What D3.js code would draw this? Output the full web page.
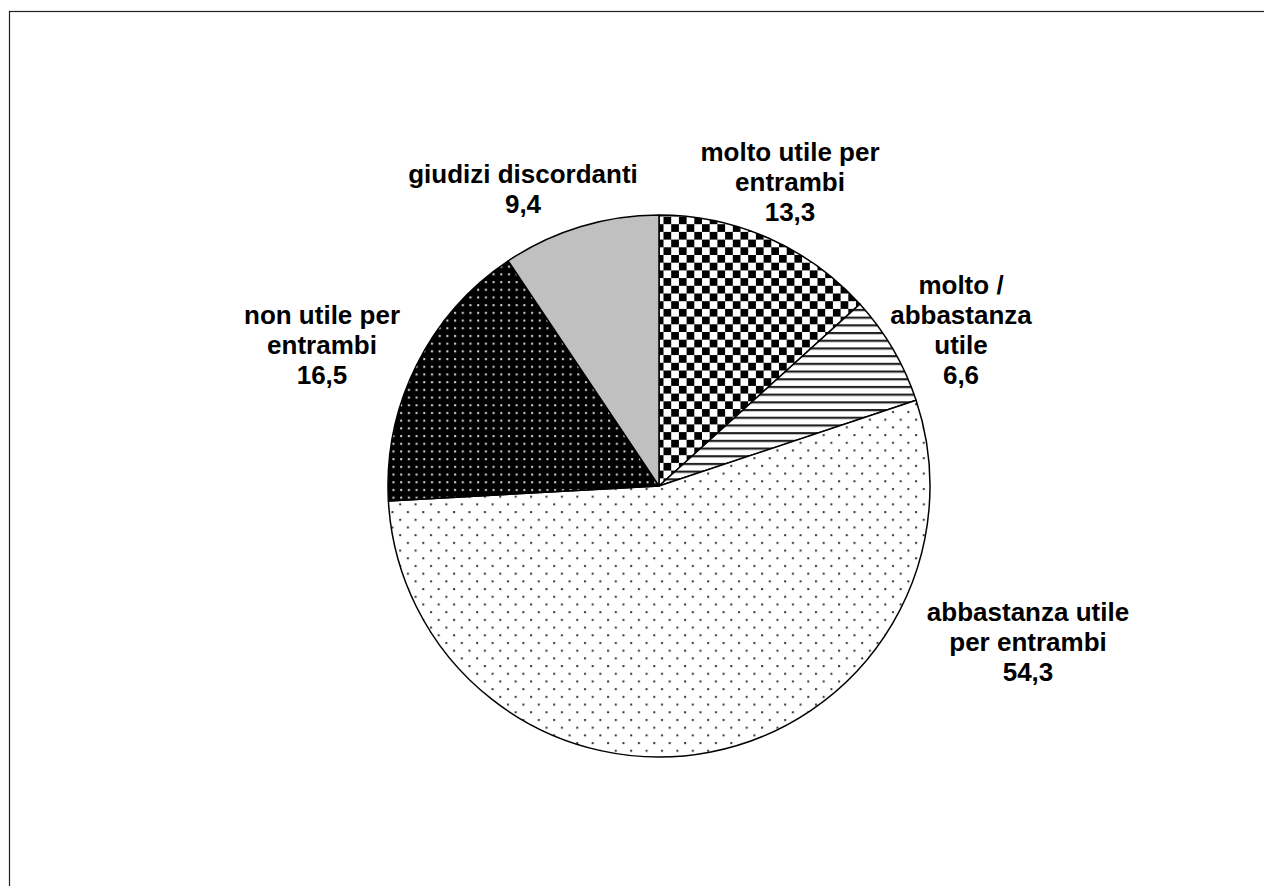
<!DOCTYPE html>
<html>
<head>
<meta charset="utf-8">
<script src="https://cdn.jsdelivr.net/npm/d3@7"></script>
<style>
  html, body { margin: 0; padding: 0; background: #fff; }
  svg { display: block; }
</style>
</head>
<body>
<svg id="chart" width="1264" height="886"></svg>
<script>
// Slices, clockwise from 12 o'clock
const categories = [
  "molto utile per entrambi",
  "molto / abbastanza utile",
  "abbastanza utile per entrambi",
  "non utile per entrambi",
  "giudizi discordanti"
];
const values = [13.3, 6.6, 54.3, 16.5, 9.4];
const valueLabels = ["13,3", "6,6", "54,3", "16,5", "9,4"];
// Text lines of each label (category wrapped, value below)
const labelLines = [
  ["molto utile per", "entrambi"],
  ["molto /", "abbastanza", "utile"],
  ["abbastanza utile", "per entrambi"],
  ["non utile per", "entrambi"],
  ["giudizi discordanti"]
];
const fills = ["checker", "hlines", "lightdots", "darkdots", "gray"];

// Layout
const cx = 659, cy = 486, radius = 271;
const labelOffsets = [[131, -304], [302, -156], [369, 156], [-337, -141], [-136, -297]];
const lineHeight = 30;

const svg = d3.select("#chart");
const defs = svg.append("defs");
const cell = 7.7;

// checkerboard
const pChecker = defs.append("pattern").attr("id", "checker")
  .attr("patternUnits", "userSpaceOnUse").attr("width", cell * 2).attr("height", cell * 2)
  .attr("x", cx).attr("y", 0);
pChecker.append("rect").attr("width", cell * 2).attr("height", cell * 2).attr("fill", "#fff");
pChecker.append("rect").attr("width", cell).attr("height", cell).attr("fill", "#000");
pChecker.append("rect").attr("x", cell).attr("y", cell).attr("width", cell).attr("height", cell).attr("fill", "#000");

// horizontal lines
const pH = defs.append("pattern").attr("id", "hlines")
  .attr("patternUnits", "userSpaceOnUse").attr("width", cell).attr("height", cell);
pH.append("rect").attr("width", cell).attr("height", cell).attr("fill", "#fff");
pH.append("rect").attr("y", 0).attr("width", cell).attr("height", 2.2).attr("fill", "#222");

// sparse dark dots on white
const pL = defs.append("pattern").attr("id", "lightdots")
  .attr("patternUnits", "userSpaceOnUse").attr("width", cell * 2).attr("height", cell * 2);
pL.append("rect").attr("width", cell * 2).attr("height", cell * 2).attr("fill", "#fff");
pL.append("rect").attr("x", 2).attr("y", 2).attr("width", 2).attr("height", 2).attr("fill", "#333");
pL.append("rect").attr("x", 2 + cell).attr("y", 2 + cell).attr("width", 2).attr("height", 2).attr("fill", "#333");

// white dots on black
const pD = defs.append("pattern").attr("id", "darkdots")
  .attr("patternUnits", "userSpaceOnUse").attr("width", cell).attr("height", cell);
pD.append("rect").attr("width", cell).attr("height", cell).attr("fill", "#000");
pD.append("rect").attr("x", 3).attr("y", 3).attr("width", 2).attr("height", 2).attr("fill", "#ddd");

const fillOf = f => f === "gray" ? "#c0c0c0" : `url(#${f})`;

// frame
svg.append("rect")
  .attr("x", 9.5).attr("y", 11.5)
  .attr("width", 1300).attr("height", 1000)
  .attr("fill", "none").attr("stroke", "#222").attr("stroke-width", 1.2);

const pie = d3.pie().sort(null).value(d => d)
  .startAngle(0).endAngle(2 * Math.PI);
const arc = d3.arc().innerRadius(0).outerRadius(radius);

const arcs = pie(values);
const g = svg.append("g").attr("transform", `translate(${cx},${cy})`);

g.selectAll("path.slice")
  .data(arcs)
  .join("path")
  .attr("class", "slice")
  .attr("d", arc)
  .attr("fill", (d, i) => fillOf(fills[i]))
  .attr("stroke", "#000")
  .attr("stroke-width", 1.5)
  .attr("stroke-linejoin", "round");

// labels
const labels = g.selectAll("text.label")
  .data(arcs)
  .join("text")
  .attr("class", "label")
  .attr("text-anchor", "middle")
  .attr("font-family", "Liberation Sans, Arial, sans-serif")
  .attr("font-weight", "bold")
  .attr("font-size", 26)
  .attr("fill", "#000");

labels.each(function (d, i) {
  const lines = labelLines[i].concat([valueLabels[i]]);
  const [ox, oy] = labelOffsets[i];
  const top = oy - (lines.length - 1) * lineHeight / 2;
  const t = d3.select(this);
  lines.forEach((ln, k) => {
    t.append("tspan")
      .attr("x", ox)
      .attr("y", top + k * lineHeight)
      .attr("dy", "0.35em")
      .text(ln);
  });
});
</script>
</body>
</html>
